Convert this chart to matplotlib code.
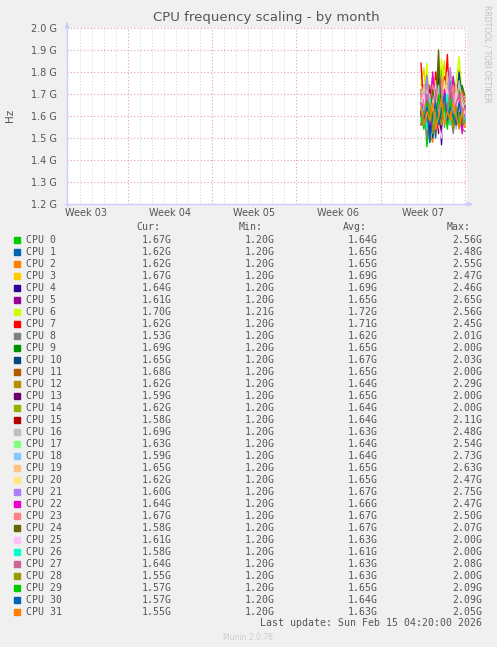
import matplotlib
matplotlib.use("Agg")
import matplotlib.pyplot as plt
from matplotlib.lines import Line2D
from matplotlib.patches import Rectangle

W, H = 497, 647

# ---------------- data ----------------
cpu_names = [f"CPU {i}" for i in range(32)]
colors = ["#00CC00", "#0066B3", "#FF8000", "#FFCC00", "#330099", "#990099", "#CCFF00", "#FF0000",
          "#808080", "#008F00", "#00487D", "#B35A00", "#B38F00", "#6B006B", "#8FB300", "#B30000",
          "#BEBEBE", "#80FF80", "#80C9FF", "#FFC080", "#FFE680", "#AA80FF", "#EE00CC", "#FF8080",
          "#666600", "#FFBFFF", "#00FFCC", "#CC6699", "#999900", "#00CC00", "#0066B3", "#FF8000"]

# time in days from the left edge of the month window
days = [29.40, 29.64, 29.89, 30.13, 30.37, 30.62, 30.86, 31.10,
        31.35, 31.59, 31.83, 32.08, 32.32, 32.56, 32.81, 33.05]

# frequency in GHz
freq = [
    [1.62, 1.70, 1.46, 1.58, 1.66, 1.74, 1.60, 1.82, 1.55, 1.70, 1.64, 1.78, 1.60, 1.72, 1.66, 1.67],
    [1.68, 1.60, 1.75, 1.55, 1.62, 1.50, 1.72, 1.64, 1.58, 1.76, 1.62, 1.70, 1.58, 1.80, 1.64, 1.62],
    [1.66, 1.58, 1.72, 1.52, 1.48, 1.60, 1.55, 1.78, 1.62, 1.58, 1.74, 1.56, 1.68, 1.62, 1.72, 1.62],
    [1.74, 1.82, 1.64, 1.70, 1.58, 1.80, 1.66, 1.74, 1.85, 1.62, 1.70, 1.76, 1.64, 1.82, 1.60, 1.67],
    [1.70, 1.62, 1.80, 1.58, 1.72, 1.66, 1.78, 1.47, 1.74, 1.68, 1.62, 1.76, 1.70, 1.64, 1.72, 1.64],
    [1.60, 1.74, 1.56, 1.66, 1.78, 1.54, 1.70, 1.62, 1.68, 1.56, 1.74, 1.60, 1.72, 1.58, 1.66, 1.61],
    [1.78, 1.66, 1.84, 1.62, 1.76, 1.70, 1.64, 1.86, 1.72, 1.60, 1.80, 1.68, 1.76, 1.87, 1.70, 1.70],
    [1.84, 1.62, 1.76, 1.68, 1.56, 1.80, 1.64, 1.72, 1.66, 1.88, 1.58, 1.74, 1.62, 1.70, 1.60, 1.62],
    [1.58, 1.66, 1.50, 1.62, 1.70, 1.54, 1.64, 1.58, 1.72, 1.56, 1.62, 1.52, 1.66, 1.58, 1.54, 1.53],
    [1.72, 1.64, 1.78, 1.48, 1.70, 1.62, 1.82, 1.68, 1.74, 1.60, 1.76, 1.66, 1.70, 1.62, 1.74, 1.69],
    [1.64, 1.72, 1.56, 1.66, 1.50, 1.68, 1.60, 1.76, 1.58, 1.70, 1.62, 1.74, 1.64, 1.80, 1.68, 1.65],
    [1.70, 1.60, 1.68, 1.74, 1.56, 1.66, 1.72, 1.62, 1.78, 1.64, 1.70, 1.58, 1.74, 1.66, 1.72, 1.68],
    [1.62, 1.70, 1.54, 1.66, 1.60, 1.74, 1.58, 1.68, 1.62, 1.72, 1.56, 1.66, 1.60, 1.70, 1.64, 1.62],
    [1.56, 1.64, 1.70, 1.52, 1.62, 1.58, 1.68, 1.54, 1.66, 1.60, 1.72, 1.56, 1.64, 1.58, 1.62, 1.59],
    [1.66, 1.58, 1.72, 1.62, 1.54, 1.70, 1.64, 1.76, 1.60, 1.68, 1.56, 1.72, 1.62, 1.66, 1.60, 1.62],
    [1.60, 1.68, 1.56, 1.72, 1.62, 1.66, 1.52, 1.70, 1.64, 1.58, 1.66, 1.54, 1.68, 1.56, 1.62, 1.58],
    [1.70, 1.62, 1.76, 1.66, 1.58, 1.72, 1.64, 1.68, 1.60, 1.74, 1.66, 1.70, 1.62, 1.76, 1.68, 1.69],
    [1.64, 1.72, 1.60, 1.68, 1.56, 1.74, 1.62, 1.66, 1.70, 1.58, 1.68, 1.64, 1.72, 1.60, 1.66, 1.63],
    [1.62, 1.56, 1.70, 1.58, 1.66, 1.60, 1.74, 1.56, 1.64, 1.70, 1.58, 1.66, 1.54, 1.68, 1.62, 1.59],
    [1.68, 1.74, 1.62, 1.70, 1.58, 1.76, 1.66, 1.72, 1.60, 1.80, 1.64, 1.70, 1.74, 1.62, 1.68, 1.65],
    [1.58, 1.66, 1.72, 1.60, 1.68, 1.56, 1.70, 1.64, 1.76, 1.62, 1.66, 1.58, 1.70, 1.64, 1.60, 1.62],
    [1.66, 1.60, 1.78, 1.64, 1.70, 1.58, 1.62, 1.74, 1.56, 1.66, 1.82, 1.60, 1.68, 1.64, 1.58, 1.60],
    [1.60, 1.70, 1.64, 1.56, 1.80, 1.62, 1.68, 1.58, 1.72, 1.64, 1.60, 1.78, 1.56, 1.70, 1.52, 1.64],
    [1.72, 1.64, 1.70, 1.60, 1.74, 1.66, 1.58, 1.78, 1.62, 1.70, 1.66, 1.74, 1.60, 1.68, 1.70, 1.67],
    [1.62, 1.56, 1.68, 1.60, 1.72, 1.64, 1.90, 1.58, 1.66, 1.60, 1.70, 1.56, 1.64, 1.62, 1.56, 1.58],
    [1.64, 1.70, 1.58, 1.66, 1.62, 1.74, 1.56, 1.50, 1.60, 1.72, 1.64, 1.58, 1.70, 1.62, 1.66, 1.61],
    [1.58, 1.64, 1.54, 1.68, 1.60, 1.56, 1.66, 1.62, 1.58, 1.70, 1.56, 1.64, 1.60, 1.58, 1.62, 1.58],
    [1.66, 1.60, 1.70, 1.62, 1.58, 1.72, 1.64, 1.60, 1.68, 1.62, 1.74, 1.60, 1.66, 1.70, 1.62, 1.64],
    [1.56, 1.62, 1.58, 1.66, 1.52, 1.64, 1.60, 1.56, 1.68, 1.58, 1.62, 1.54, 1.64, 1.58, 1.60, 1.55],
    [1.60, 1.54, 1.66, 1.58, 1.62, 1.56, 1.70, 1.60, 1.64, 1.54, 1.68, 1.58, 1.62, 1.56, 1.60, 1.57],
    [1.62, 1.58, 1.64, 1.48, 1.60, 1.66, 1.56, 1.62, 1.70, 1.58, 1.64, 1.60, 1.56, 1.66, 1.58, 1.57],
    [1.64, 1.56, 1.62, 1.58, 1.66, 1.54, 1.60, 1.68, 1.56, 1.62, 1.58, 1.66, 1.60, 1.54, 1.62, 1.55],
]

cur = [1.67, 1.62, 1.62, 1.67, 1.64, 1.61, 1.70, 1.62, 1.53, 1.69, 1.65, 1.68, 1.62, 1.59, 1.62, 1.58,
       1.69, 1.63, 1.59, 1.65, 1.62, 1.60, 1.64, 1.67, 1.58, 1.61, 1.58, 1.64, 1.55, 1.57, 1.57, 1.55]
vmin = [1.20, 1.20, 1.20, 1.20, 1.20, 1.20, 1.21, 1.20, 1.20, 1.20, 1.20, 1.20, 1.20, 1.20, 1.20, 1.20,
        1.20, 1.20, 1.20, 1.20, 1.20, 1.20, 1.20, 1.20, 1.20, 1.20, 1.20, 1.20, 1.20, 1.20, 1.20, 1.20]
vavg = [1.64, 1.65, 1.65, 1.69, 1.69, 1.65, 1.72, 1.71, 1.62, 1.65, 1.67, 1.65, 1.64, 1.65, 1.64, 1.64,
        1.63, 1.64, 1.64, 1.65, 1.65, 1.67, 1.66, 1.67, 1.67, 1.63, 1.61, 1.63, 1.63, 1.65, 1.64, 1.63]
vmax = [2.56, 2.48, 2.55, 2.47, 2.46, 2.65, 2.56, 2.45, 2.01, 2.00, 2.03, 2.00, 2.29, 2.00, 2.00, 2.11,
        2.48, 2.54, 2.73, 2.63, 2.47, 2.75, 2.47, 2.50, 2.07, 2.00, 2.00, 2.08, 2.00, 2.09, 2.09, 2.05]

week_labels = ["Week 03", "Week 04", "Week 05", "Week 06", "Week 07"]
week_starts = [5.04, 12.04, 19.04, 26.04, 33.04]
yticks = [1.2, 1.3, 1.4, 1.5, 1.6, 1.7, 1.8, 1.9, 2.0]

# ---------------- figure ----------------
fig = plt.figure(figsize=(W / 100, H / 100), dpi=100, facecolor="#F0F0F0")

def fx(px):
    return px / W

def fy(py):
    return 1 - py / H

L, R, T, B = 67, 467, 28, 204
ax = fig.add_axes([fx(L), fy(B), fx(R) - fx(L), fy(T) - fy(B)])
ax.set_facecolor("white")
ax.set_xlim(0, 33.22)
ax.set_ylim(1.2, 2.0)

txtc = "#555555"
# grid
for d in range(0, 34):
    xd = 0.04 + d
    if any(abs(xd - w) < 1e-6 for w in week_starts):
        continue
    ax.axvline(xd, color="#d4d4d4", lw=0.7, ls=(0, (1, 2)), zorder=1)
for w in week_starts:
    ax.axvline(w, color="#e8a0a0", lw=0.8, ls=(0, (1, 2)), zorder=1)
for y in yticks[1:]:
    ax.axhline(y, color="#e8a0a0", lw=0.8, ls=(0, (1, 2)), zorder=1)

for i in range(32):
    ax.plot(days, freq[i], color=colors[i], lw=1.0, zorder=3)

for s in ax.spines.values():
    s.set_visible(False)
ax.set_yticks(yticks)
ax.set_yticklabels([f"{v:.1f} G" for v in yticks])
ax.set_xticks([w - 3.5 for w in week_starts])
ax.set_xticklabels(week_labels)
ax.tick_params(axis="both", length=0, colors=txtc, labelsize=7)
ax.tick_params(axis="y", pad=7)
ax.tick_params(axis="x", pad=3)

# axis lines with arrows
axc = "#ccccff"
fig.add_artist(Line2D([fx(L), fx(L)], [fy(B + 2), fy(T - 3)], color=axc, lw=1))
fig.add_artist(Line2D([fx(L - 2), fx(R + 3)], [fy(B), fy(B)], color=axc, lw=1))
ax.annotate("", xy=(fx(L), fy(T - 8)), xytext=(fx(L), fy(T - 2)), xycoords="figure fraction",
            arrowprops=dict(arrowstyle="-|>", color=axc, lw=0.8, mutation_scale=7))
ax.annotate("", xy=(fx(R + 8), fy(B)), xytext=(fx(R + 2), fy(B)), xycoords="figure fraction",
            arrowprops=dict(arrowstyle="-|>", color=axc, lw=0.8, mutation_scale=7))

# title & labels
fig.text(fx(266), fy(18), "CPU frequency scaling - by month", ha="center", va="center",
         fontsize=9.5, color=txtc)
fig.text(fx(10), fy(115), "Hz", ha="center", va="center", rotation=90, fontsize=7.5, color=txtc)
fig.text(fx(487), fy(5), "RRDTOOL / TOBI OETIKER", ha="center", va="top", rotation=270,
         fontsize=5.5, color="#c0c0c0")

# legend
mono = "DejaVu Sans Mono"
fs = 7.1
hy = 227
fig.text(fx(136), fy(hy), "Cur:", ha="left", va="center", family=mono, fontsize=fs, color=txtc)
fig.text(fx(239), fy(hy), "Min:", ha="left", va="center", family=mono, fontsize=fs, color=txtc)
fig.text(fx(343), fy(hy), "Avg:", ha="left", va="center", family=mono, fontsize=fs, color=txtc)
fig.text(fx(447), fy(hy), "Max:", ha="left", va="center", family=mono, fontsize=fs, color=txtc)
for i in range(32):
    y = 240 + 12 * i
    fig.add_artist(Rectangle((fx(14), fy(y + 3)), fx(6), fy(y - 3) - fy(y + 3), color=colors[i],
                             transform=fig.transFigure))
    fig.text(fx(26), fy(y), cpu_names[i], ha="left", va="center", family=mono, fontsize=fs, color=txtc)
    fig.text(fx(172), fy(y), f"{cur[i]:.2f}G", ha="right", va="center", family=mono, fontsize=fs, color=txtc)
    fig.text(fx(275), fy(y), f"{vmin[i]:.2f}G", ha="right", va="center", family=mono, fontsize=fs, color=txtc)
    fig.text(fx(378), fy(y), f"{vavg[i]:.2f}G", ha="right", va="center", family=mono, fontsize=fs, color=txtc)
    fig.text(fx(482), fy(y), f"{vmax[i]:.2f}G", ha="right", va="center", family=mono, fontsize=fs, color=txtc)

fig.text(fx(482), fy(623), "Last update: Sun Feb 15 04:20:00 2026", ha="right", va="center",
         family=mono, fontsize=fs, color=txtc)
fig.text(fx(248), fy(637), "Munin 2.0.76", ha="center", va="center", fontsize=5.5, color="#cccccc")

fig.savefig("out.png", dpi=100, facecolor=fig.get_facecolor())
